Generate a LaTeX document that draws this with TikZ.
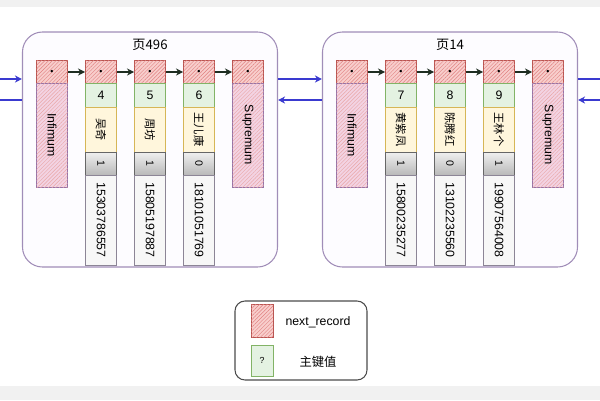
\documentclass[tikz,border=0pt]{standalone}
\usepackage{fontspec}
\setmainfont{Liberation Sans}
\newfontfamily\cjk{Noto Sans CJK SC}
\usepackage{graphicx}
\usetikzlibrary{arrows.meta, patterns.meta}

\definecolor{pageborder}{HTML}{A08DB8}
\definecolor{pagefill}{HTML}{FDFCFF}
\definecolor{nextfill}{HTML}{F8CECC}
\definecolor{nextborder}{HTML}{B85450}
\definecolor{nexthatch}{HTML}{E08080}
\definecolor{endfill}{HTML}{F3D3E3}
\definecolor{endborder}{HTML}{9673A6}
\definecolor{keyfill}{HTML}{E4F2E2}
\definecolor{keyborder}{HTML}{82B366}
\definecolor{namefill}{HTML}{FFF6DC}
\definecolor{nameborder}{HTML}{D6B656}
\definecolor{linkblue}{HTML}{3A3AD0}
\definecolor{linkdark}{HTML}{1E2E22}
\definecolor{stripgray}{HTML}{F1F1F1}

\begin{document}
\begin{tikzpicture}[
    x=0.2mm, y=-0.2mm,
    page/.style={draw=pageborder, fill=pagefill, rounded corners=4mm, line width=0.6pt, minimum width=51mm, minimum height=47mm},
    pagetitle/.style={font=\cjk\fontsize{7.5}{8}\selectfont},
    nxt/.style={draw=nextborder, fill=nextfill, line width=0.5pt, inner sep=0pt, minimum width=6.2mm, minimum height=4.6mm,
        postaction={pattern={Lines[angle=45, distance=1.5pt, line width=0.25pt]}, pattern color=nexthatch}, font=\fontsize{5}{5}\selectfont},
    bound/.style={draw=endborder, fill=endfill, line width=0.5pt, inner sep=0pt, minimum width=6.2mm, minimum height=20.8mm,
        postaction={pattern={Lines[angle=45, distance=1.5pt, line width=0.25pt]}, pattern color=nexthatch!70}, font=\fontsize{7}{7}\selectfont},
    keycell/.style={draw=keyborder, fill=keyfill, line width=0.5pt, inner sep=0pt, minimum width=6.2mm, minimum height=4.8mm, font=\fontsize{7}{7}\selectfont},
    namecell/.style={draw=nameborder, fill=namefill, line width=0.5pt, inner sep=0pt, minimum width=6.2mm, minimum height=9mm, font=\cjk\fontsize{6.4}{6.4}\selectfont},
    sexcell/.style={draw=gray!80!black, top color=gray!12, bottom color=gray!55, line width=0.5pt, inner sep=0pt, minimum width=6.2mm, minimum height=4.6mm, font=\fontsize{6}{6}\selectfont},
    phonecell/.style={draw=gray!60!pageborder, fill=gray!6, line width=0.5pt, inner sep=0pt, minimum width=6.2mm, minimum height=18mm, font=\fontsize{7}{7}\selectfont},
    next link/.style={draw=linkdark, line width=0.8pt, -{Stealth[length=4pt, width=4pt]}},
    page link/.style={draw=linkblue, line width=0.7pt, -{Stealth[length=4pt, width=4pt]}},
    page line/.style={draw=linkblue, line width=0.7pt},
    legend/.style={draw=black!70, rounded corners=2mm, line width=0.6pt, minimum width=26.4mm, minimum height=15.8mm},
    legend text/.style={font=\fontsize{7}{7}\selectfont}
]

\useasboundingbox (0,0) rectangle (600,400);
\fill[stripgray] (0,0) rectangle (600,7);
\fill[stripgray] (0,386) rectangle (600,400);

% Pages
\node[page] (P496) at (150,149.5) {};
\node[page] (P14) at (450,149.5) {};
\node[pagetitle] (T496) at (150,45) {页496};
\node[pagetitle] (T14) at (450,45) {页14};

% Page 496
\node[nxt] (NI496) at (52,72) {\textbullet};
\node[bound] (I496) at (52,135) {\rotatebox{-90}{Infimum}};
\node[nxt] (N4) at (101,72) {\textbullet};
\node[keycell] (K4) at (101,95) {4};
\node[namecell] (M4) at (101,129.5) {\rotatebox{-90}{吴奇}};
\node[sexcell] (S4) at (101,163.5) {\rotatebox{-90}{1}};
\node[phonecell] (H4) at (101,220) {\rotatebox{-90}{15303786557}};
\node[nxt] (N5) at (150,72) {\textbullet};
\node[keycell] (K5) at (150,95) {5};
\node[namecell] (M5) at (150,129.5) {\rotatebox{-90}{周坊}};
\node[sexcell] (S5) at (150,163.5) {\rotatebox{-90}{1}};
\node[phonecell] (H5) at (150,220) {\rotatebox{-90}{15805197887}};
\node[nxt] (N6) at (199,72) {\textbullet};
\node[keycell] (K6) at (199,95) {6};
\node[namecell] (M6) at (199,129.5) {\rotatebox{-90}{王儿康}};
\node[sexcell] (S6) at (199,163.5) {\rotatebox{-90}{0}};
\node[phonecell] (H6) at (199,220) {\rotatebox{-90}{18101051769}};
\node[nxt] (NU496) at (248,72) {\textbullet};
\node[bound] (U496) at (248,135) {\rotatebox{-90}{Supremum}};

% Page 14
\node[nxt] (NI14) at (352,72) {\textbullet};
\node[bound] (I14) at (352,135) {\rotatebox{-90}{Infimum}};
\node[nxt] (N7) at (401,72) {\textbullet};
\node[keycell] (K7) at (401,95) {7};
\node[namecell] (M7) at (401,129.5) {\rotatebox{-90}{黄紫凤}};
\node[sexcell] (S7) at (401,163.5) {\rotatebox{-90}{1}};
\node[phonecell] (H7) at (401,220) {\rotatebox{-90}{15800235277}};
\node[nxt] (N8) at (450,72) {\textbullet};
\node[keycell] (K8) at (450,95) {8};
\node[namecell] (M8) at (450,129.5) {\rotatebox{-90}{陈腾红}};
\node[sexcell] (S8) at (450,163.5) {\rotatebox{-90}{0}};
\node[phonecell] (H8) at (450,220) {\rotatebox{-90}{13102235560}};
\node[nxt] (N9) at (499,72) {\textbullet};
\node[keycell] (K9) at (499,95) {9};
\node[namecell] (M9) at (499,129.5) {\rotatebox{-90}{王林个}};
\node[sexcell] (S9) at (499,163.5) {\rotatebox{-90}{1}};
\node[phonecell] (H9) at (499,220) {\rotatebox{-90}{19907564008}};
\node[nxt] (NU14) at (548,72) {\textbullet};
\node[bound] (U14) at (548,135) {\rotatebox{-90}{Supremum}};

% Record links
\draw[next link] (NI496) -- (N4);
\draw[next link] (N4) -- (N5);
\draw[next link] (N5) -- (N6);
\draw[next link] (N6) -- (NU496);
\draw[next link] (NI14) -- (N7);
\draw[next link] (N7) -- (N8);
\draw[next link] (N8) -- (N9);
\draw[next link] (N9) -- (NU14);

% Page links
\coordinate (W1) at (0,79);
\coordinate (W2) at (0,100);
\coordinate (E1) at (600,79);
\coordinate (E2) at (600,100);
\draw[page link] (W1) -- (W1 -| P496.west);
\draw[page line] (P496.west |- W2) -- (W2);
\draw[page link] (P496.east |- W1) -- (P14.west |- W1);
\draw[page link] (P14.west |- W2) -- (P496.east |- W2);
\draw[page line] (P14.east |- E1) -- (E1);
\draw[page link] (E2) -- (P14.east |- E2);

% Legend
\node[legend] (L) at (301,340.5) {};
\node[nxt, minimum width=4.4mm, minimum height=6.6mm] (LN) at (262,321) {};
\node[keycell, minimum width=4.4mm, minimum height=6.2mm, font=\fontsize{5}{5}\selectfont] (LK) at (262,360.5) {?};
\node[legend text] (LNT) at (318,322) {next\_record};
\node[legend text, font=\cjk\fontsize{7}{7}\selectfont] (LKT) at (318,362) {主键值};

\end{tikzpicture}
\end{document}
